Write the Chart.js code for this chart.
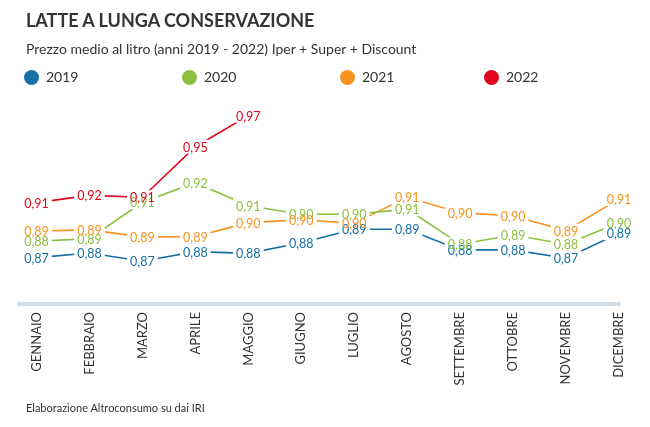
<!DOCTYPE html>
<html lang="it">
<head>
<meta charset="utf-8">
<title>Latte a lunga conservazione</title>
<script src="https://cdn.jsdelivr.net/npm/chart.js@4.4.0/dist/chart.umd.min.js"></script>
<style>
  body { margin: 0; background: #fff; font-family: Lato, sans-serif; color: #333; }
  #pagina { position: relative; width: 650px; height: 427px; overflow: hidden; }
  #grafico { position: absolute; left: 0; top: 0; }
  #titolo { position: absolute; left: 26px; top: 9px; font-size: 18px; font-weight: bold; line-height: 22px; color: #333; }
  #sottotitolo { position: absolute; left: 26px; top: 40px; font-size: 14px; line-height: 18px; color: #333; }
  #legenda { position: absolute; left: 24px; top: 68px; height: 18px; display: flex; }
  #legenda .voce { display: flex; align-items: center; font-size: 14px; line-height: 18px; width: 158px; }
  #legenda .voce:nth-child(3) { width: 144px; }
  #legenda i { display: inline-block; width: 15px; height: 15px; border-radius: 50%; margin-right: 7px; }
  #fonte { position: absolute; left: 26px; top: 401px; font-size: 11px; line-height: 14px; color: #333; }
</style>
</head>
<body>
<div id="pagina">
  <canvas id="grafico" width="650" height="427"></canvas>
  <div id="titolo">LATTE A LUNGA CONSERVAZIONE</div>
  <div id="sottotitolo">Prezzo medio al litro (anni 2019 - 2022) Iper + Super + Discount</div>
  <div id="legenda"></div>
  <div id="fonte">Elaborazione Altroconsumo su dai IRI</div>
</div>
<script>
var mesi = ["GENNAIO", "FEBBRAIO", "MARZO", "APRILE", "MAGGIO", "GIUGNO", "LUGLIO", "AGOSTO", "SETTEMBRE", "OTTOBRE", "NOVEMBRE", "DICEMBRE"];
var anni = ["2019", "2020", "2021", "2022"];
var colori = ["#1670a6", "#8cbf3e", "#f7931e", "#e2061c"];

// prezzo medio al litro, euro
var prezzi_2019 = [0.8723, 0.8755, 0.8698, 0.8764, 0.8752, 0.8826, 0.8919, 0.8919, 0.8776, 0.8776, 0.8719, 0.8891];
var prezzi_2020 = [0.8836, 0.8854, 0.9105, 0.924, 0.908, 0.9022, 0.9022, 0.9057, 0.8815, 0.8879, 0.8815, 0.8964];
var prezzi_2021 = [0.8907, 0.8914, 0.8866, 0.8868, 0.8964, 0.8983, 0.896, 0.9139, 0.9033, 0.901, 0.8909, 0.9128];
var prezzi_2022 = [0.9102, 0.9152, 0.9139, 0.9488, 0.9702];

var serie = [prezzi_2019, prezzi_2020, prezzi_2021, prezzi_2022];

Chart.defaults.font.family = "Lato";

var legenda = document.getElementById("legenda");
for (var i = 0; i < anni.length; i++) {
  legenda.innerHTML += '<span class="voce"><i style="background:' + colori[i] + '"></i>' + anni[i] + "</span>";
}

// etichette con sfondo bianco sopra le linee
var etichette = {
  id: "etichette",
  afterDatasetsDraw: function (chart) {
    var ctx = chart.ctx;
    var lista = [];
    chart.data.datasets.forEach(function (ds, i) {
      var meta = chart.getDatasetMeta(i);
      meta.data.forEach(function (p, j) {
        var v = ds.data[j];
        if (v == null) return;
        lista.push({ x: p.x, y: p.y, testo: v.toFixed(2).replace(".", ","), colore: ds.borderColor });
      });
    });
    ctx.save();
    ctx.font = "12.5px Lato";
    ctx.textAlign = "center";
    ctx.textBaseline = "middle";
    lista.forEach(function (e) {
      var w = ctx.measureText(e.testo).width + 6;
      ctx.fillStyle = "#fff";
      ctx.fillRect(e.x - w / 2, e.y - 7, w, 14);
    });
    lista.forEach(function (e) {
      ctx.fillStyle = e.colore;
      ctx.fillText(e.testo, e.x, e.y + 1);
    });
    ctx.restore();
  },
};

// linea grigia di base
var base = {
  id: "base",
  beforeDatasetsDraw: function (chart) {
    var a = chart.chartArea;
    var ctx = chart.ctx;
    ctx.save();
    ctx.fillStyle = "#d3dde3";
    ctx.fillRect(a.left - 19.5, a.bottom - 2, a.right - a.left + 21, 4);
    ctx.restore();
  },
};

var dati = {
  type: "line",
  data: {
    labels: mesi,
    datasets: serie.map(function (s, i) {
      return {
        label: anni[i],
        data: s,
        borderColor: colori[i],
        backgroundColor: colori[i],
        borderWidth: 1.6,
        pointRadius: 0,
        tension: 0,
      };
    }),
  },
  options: {
    responsive: false,
    animation: false,
    layout: { padding: { top: 90, left: 0, right: 0, bottom: 0 } },
    plugins: {
      legend: { display: false },
      tooltip: { enabled: false },
    },
    scales: {
      x: {
        offset: false,
        grid: { display: false, drawTicks: false },
        border: { display: false },
        ticks: {
          autoSkip: false,
          minRotation: 90,
          maxRotation: 90,
          padding: 8,
          color: "#333",
          font: { size: 13 },
        },
        afterFit: function (s) {
          s.paddingLeft = 36.5;
          s.paddingRight = 31;
          s.height = 123;
        },
      },
      y: {
        display: false,
        min: 0.8403,
        max: 0.9879,
      },
    },
  },
  plugins: [base, etichette],
};

var grafico = new Chart(document.getElementById("grafico"), dati);
</script>
</body>
</html>
